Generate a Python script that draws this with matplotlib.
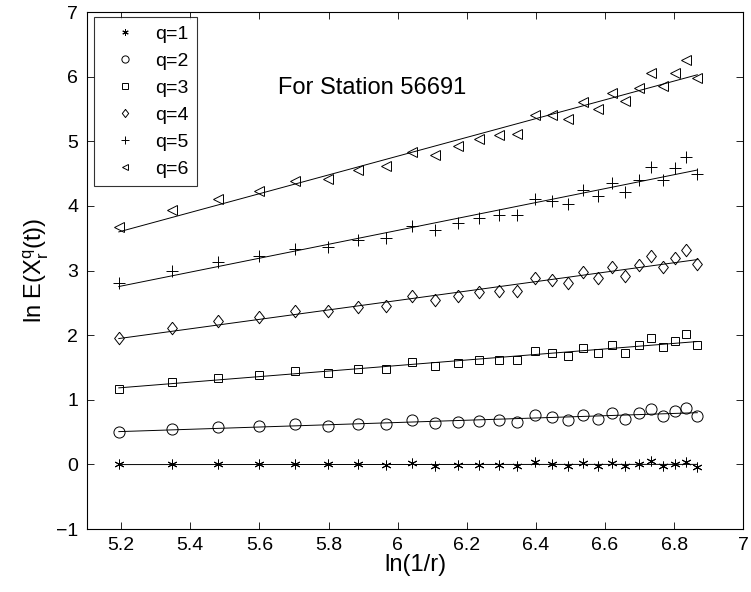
import numpy as np
import matplotlib
matplotlib.use("Agg")
import matplotlib.pyplot as plt

# ------------------------------------
# Data
# ------------------------------------
ln_inv_r = [5.193, 5.347, 5.481, 5.598, 5.704, 5.799, 5.886, 5.966, 6.040,
            6.109, 6.174, 6.234, 6.292, 6.346, 6.397, 6.446, 6.492, 6.537,
            6.579, 6.620, 6.659, 6.697, 6.733, 6.768, 6.802, 6.835, 6.867]

q1 = [0.00, 0.00, 0.00, 0.00, 0.00, 0.00, 0.00, -0.01, 0.02, -0.02, -0.01,
      -0.01, -0.01, -0.03, 0.03, 0.01, -0.03, 0.02, -0.02, 0.02, -0.03, 0.00,
      0.05, -0.02, 0.01, 0.04, -0.04]
q2 = [0.50, 0.55, 0.58, 0.59, 0.62, 0.60, 0.63, 0.62, 0.68, 0.64, 0.66,
      0.67, 0.68, 0.66, 0.76, 0.73, 0.68, 0.77, 0.71, 0.79, 0.70, 0.79,
      0.85, 0.75, 0.82, 0.88, 0.75]
q3 = [1.17, 1.28, 1.34, 1.39, 1.44, 1.42, 1.48, 1.48, 1.58, 1.53, 1.57,
      1.61, 1.61, 1.61, 1.76, 1.72, 1.67, 1.80, 1.72, 1.84, 1.73, 1.85,
      1.95, 1.81, 1.91, 2.02, 1.84]
q4 = [1.95, 2.11, 2.22, 2.28, 2.37, 2.37, 2.43, 2.45, 2.60, 2.54, 2.60,
      2.67, 2.69, 2.68, 2.89, 2.85, 2.81, 2.98, 2.88, 3.05, 2.92, 3.08,
      3.22, 3.05, 3.19, 3.32, 3.10]
q5 = [2.80, 3.00, 3.13, 3.23, 3.34, 3.37, 3.47, 3.51, 3.69, 3.63, 3.74,
      3.81, 3.86, 3.86, 4.11, 4.08, 4.03, 4.25, 4.16, 4.35, 4.22, 4.40,
      4.60, 4.40, 4.59, 4.75, 4.50]
q6 = [3.68, 3.94, 4.11, 4.23, 4.38, 4.42, 4.55, 4.62, 4.84, 4.79, 4.93,
      5.04, 5.09, 5.11, 5.41, 5.40, 5.34, 5.60, 5.50, 5.75, 5.62, 5.82,
      6.06, 5.85, 6.06, 6.25, 5.98]

labels = ["q=1", "q=2", "q=3", "q=4", "q=5", "q=6"]
series = [q1, q2, q3, q4, q5, q6]

x_ticks = [5.2, 5.4, 5.6, 5.8, 6, 6.2, 6.4, 6.6, 6.8, 7]
x_tick_labels = ["5.2", "5.4", "5.6", "5.8", "6", "6.2", "6.4", "6.6", "6.8", "7"]
y_ticks = [-1, 0, 1, 2, 3, 4, 5, 6, 7]

# ------------------------------------
# Style
# ------------------------------------
plt.rcParams["font.family"] = ["Liberation Sans", "DejaVu Sans"]
plt.rcParams["mathtext.default"] = "regular"

diamond = [(0, 1), (0.78, 0), (0, -1), (-0.78, 0), (0, 1)]
markers = [(6, 2, 0), "o", "s", diamond, "+", "<"]
sizes = [7, 8, 6, 9, 8, 6.5]

# ------------------------------------
# Plot
# ------------------------------------
fig = plt.figure(figsize=(7.51, 5.92), dpi=100)
ax = fig.add_axes([0.1154, 0.1064, 0.8743, 0.8733])

x = np.array(ln_inv_r)
for vals, lab, m, s in zip(series, labels, markers, sizes):
    ax.plot(x, vals, linestyle="none", marker=m, markersize=s,
            markerfacecolor="none", markeredgecolor="black",
            markeredgewidth=0.7, color="black", label=lab)

# least squares line for each q
for vals in series:
    k, b = np.polyfit(x, vals, 1)
    ax.plot([x[0], x[-1]], [k * x[0] + b, k * x[-1] + b],
            color="black", linewidth=0.7)

ax.text(5.653, 5.83, "For Station 56691", fontsize=17, va="center")

ax.set_xlim(5.1, 7)
ax.set_ylim(-1, 7)
ax.set_xticks(x_ticks)
ax.set_xticklabels(x_tick_labels)
ax.set_yticks(y_ticks)
ax.tick_params(direction="in", top=True, right=True, length=5,
               width=0.6, labelsize=14, pad=6)
for sp in ax.spines.values():
    sp.set_linewidth(0.8)

ax.set_xlabel("ln(1/r)", fontsize=17, labelpad=0)
ax.set_ylabel(r"ln E(X$_r^q$(t))", fontsize=17, labelpad=4)

leg = ax.legend(loc="upper left", bbox_to_anchor=(0.011, 0.99),
                borderaxespad=0, fontsize=14, frameon=True, fancybox=False,
                handlelength=2.4, handletextpad=0.35, labelspacing=0.48,
                borderpad=0.42, markerscale=0.65)
leg.get_frame().set_edgecolor("black")
leg.get_frame().set_linewidth(0.8)

fig.savefig("out.png", dpi=100)
